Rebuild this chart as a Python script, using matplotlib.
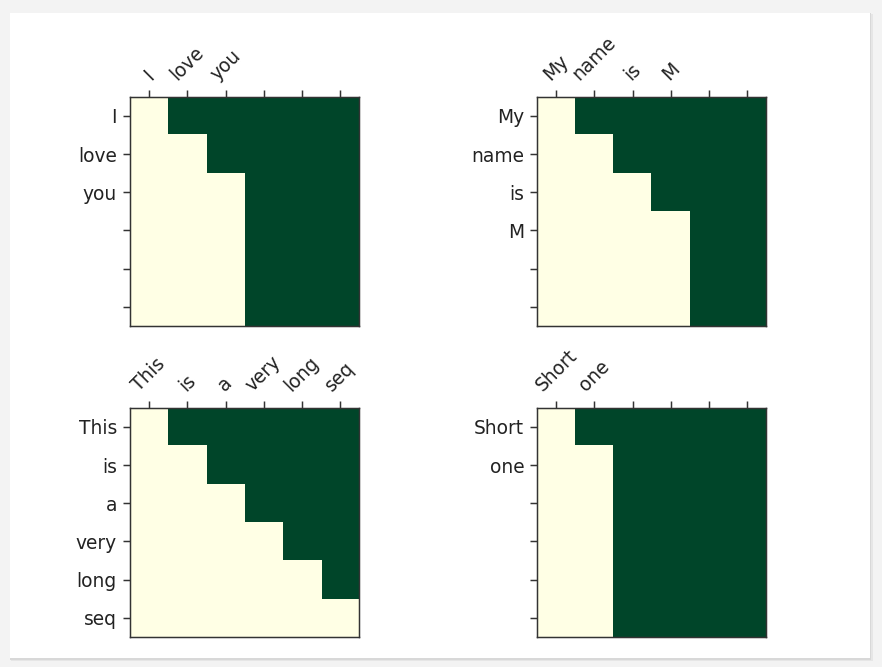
import matplotlib
matplotlib.use("Agg")
import matplotlib.pyplot as plt
from matplotlib.patches import Rectangle
import numpy as np

S = 1.344  # scale of original figure inside the card

sentences = [
    ["I", "love", "you"],
    ["My", "name", "is", "M"],
    ["This", "is", "a", "very", "long", "seq"],
    ["Short", "one"],
]

# 1 = masked (dark), 0 = visible (light)
mask_1 = [
    [0, 1, 1, 1, 1, 1],
    [0, 0, 1, 1, 1, 1],
    [0, 0, 0, 1, 1, 1],
    [0, 0, 0, 1, 1, 1],
    [0, 0, 0, 1, 1, 1],
    [0, 0, 0, 1, 1, 1],
]
mask_2 = [
    [0, 1, 1, 1, 1, 1],
    [0, 0, 1, 1, 1, 1],
    [0, 0, 0, 1, 1, 1],
    [0, 0, 0, 0, 1, 1],
    [0, 0, 0, 0, 1, 1],
    [0, 0, 0, 0, 1, 1],
]
mask_3 = [
    [0, 1, 1, 1, 1, 1],
    [0, 0, 1, 1, 1, 1],
    [0, 0, 0, 1, 1, 1],
    [0, 0, 0, 0, 1, 1],
    [0, 0, 0, 0, 0, 1],
    [0, 0, 0, 0, 0, 0],
]
mask_4 = [
    [0, 1, 1, 1, 1, 1],
    [0, 0, 1, 1, 1, 1],
    [0, 0, 1, 1, 1, 1],
    [0, 0, 1, 1, 1, 1],
    [0, 0, 1, 1, 1, 1],
    [0, 0, 1, 1, 1, 1],
]
masks = [mask_1, mask_2, mask_3, mask_4]

W, H = 882, 667
fig = plt.figure(figsize=(W / 100, H / 100), dpi=100)
fig.patch.set_facecolor("#f3f3f3")

# card with soft shadow
cx0, cy0, cx1, cy1 = 10, 12.7, 870, 658
for off, col in [(3, "#e6e6e6"), (1.5, "#d8d8d8")]:
    fig.patches.append(Rectangle(((cx0 + off * 0.3) / W, 1 - (cy1 + off) / H),
                                 (cx1 - cx0 + off * 0.6) / W, (cy1 - cy0 + off * 0.6) / H,
                                 transform=fig.transFigure, facecolor=col,
                                 edgecolor="none", zorder=-2))
fig.patches.append(Rectangle((cx0 / W, 1 - cy1 / H), (cx1 - cx0) / W, (cy1 - cy0) / H,
                             transform=fig.transFigure, facecolor="white",
                             edgecolor="none", zorder=-1))

# axes boxes in pixel coords (left, top, right, bottom)
boxes = [
    (130, 96.7, 359.3, 326),
    (537.3, 96.7, 766, 326),
    (130, 407.7, 359.3, 637),
    (537.3, 407.7, 766, 637),
]

fs = 10 * S
for box, words, m in zip(boxes, sentences, masks):
    l, t, r, b = box
    ax = fig.add_axes([l / W, 1 - b / H, (r - l) / W, (b - t) / H])
    ax.set_zorder(2)
    ax.patch.set_alpha(0)
    ax.matshow(np.array(m), cmap="YlGn", aspect="auto", vmin=0, vmax=1)
    n = len(m)
    labels = words + [""] * (n - len(words))
    ax.set_xticks(range(n))
    ax.set_yticks(range(n))
    ax.set_xticklabels(labels, rotation=45, fontsize=fs)
    ax.set_yticklabels(labels, fontsize=fs)
    ax.tick_params(axis="x", top=True, bottom=False, labeltop=True, labelbottom=False)
    ax.tick_params(axis="y", left=True, right=False)
    ax.tick_params(length=3.5 * S, width=0.8 * S, pad=3.5 * S, colors="#333333",
                   labelcolor="#222222")
    for sp in ax.spines.values():
        sp.set_linewidth(0.8 * S)
        sp.set_color("#333333")

fig.savefig("out.png", dpi=100, facecolor=fig.get_facecolor())
